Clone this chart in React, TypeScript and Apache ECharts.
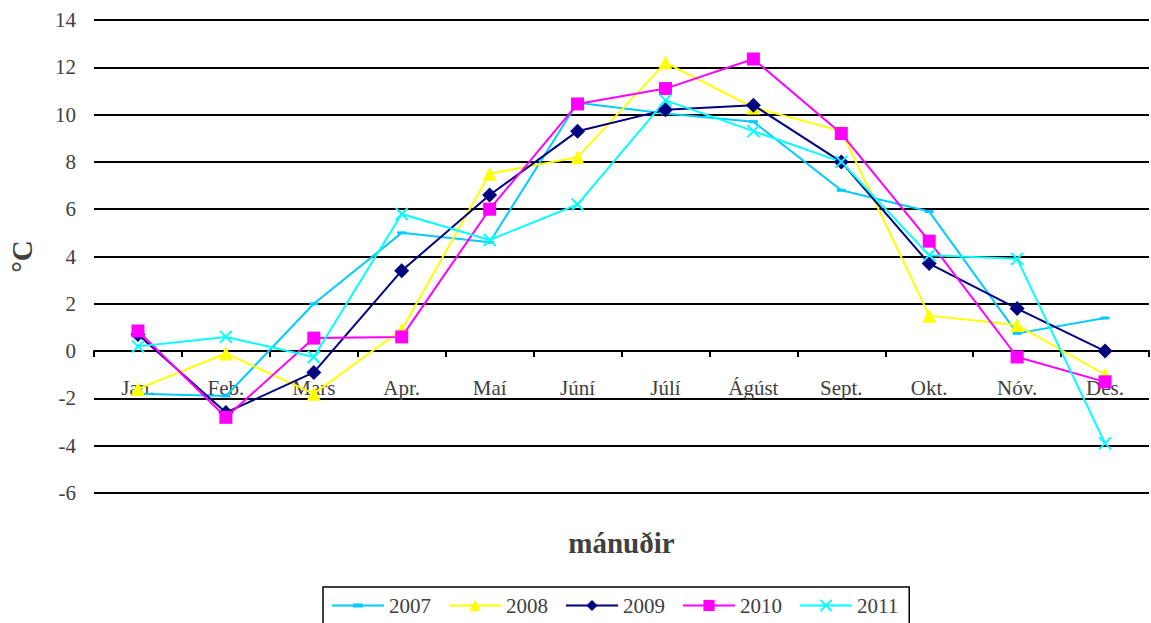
import React, { useEffect, useRef } from "react";
import * as echarts from "echarts";

const months = ["Jan.", "Feb.", "Mars", "Apr.", "Maí", "Júní", "Júlí", "Ágúst", "Sept.", "Okt.", "Nóv.", "Des."];
const years = ["2007", "2008", "2009", "2010", "2011"];
const y2007 = [-1.8, -1.9, 2.0, 5.0, 4.6, 10.5, 10.05, 9.7, 6.8, 5.9, 0.75, 1.4];
const y2008 = [-1.6, -0.1, -1.8, 0.9, 7.5, 8.2, 12.2, 10.3, 9.3, 1.5, 1.1, -1.0];
const y2009 = [0.7, -2.6, -0.9, 3.4, 6.6, 9.3, 10.2, 10.4, 8.0, 3.7, 1.8, 0.0];
const y2010 = [0.85, -2.8, 0.55, 0.6, 6.0, 10.45, 11.1, 12.35, 9.2, 4.65, -0.25, -1.3];
const y2011 = [0.2, 0.6, -0.25, 5.8, 4.7, 6.2, 10.6, 9.3, 8.0, 4.05, 3.9, -3.9];
const yTicks = { min: -6, max: 14, interval: 2 };

const FONT = "Liberation Serif";
const TXT = "#404040";
const GRID_TOP = 20;
const GRID_BOTTOM = 130;
const CHART_H = 623;

export default function App() {
  const ref = useRef<HTMLDivElement>(null);
  useEffect(() => {
    if (!ref.current) return;
    const chart = echarts.init(ref.current, undefined, { renderer: "svg" });
    const plotH = CHART_H - GRID_TOP - GRID_BOTTOM;
    // place category axis at y = 0 of the value axis
    const zeroOffset = -plotH * (0 - yTicks.min) / (yTicks.max - yTicks.min);
    const mk = (name: string, data: number[], color: string, symbol: string, size: any, bw = 0) => ({
      name,
      type: "line",
      data,
      symbol,
      symbolSize: size,
      showSymbol: true,
      lineStyle: { color, width: 2 },
      itemStyle: { color, borderColor: color, borderWidth: bw },
      emphasis: { disabled: true },
    });
    chart.setOption({
      animation: false,
      grid: { left: 94, right: 2, top: GRID_TOP, bottom: GRID_BOTTOM, outerBoundsMode: "none", containLabel: false },
      legend: {
        left: 323,
        top: 587,
        data: [
          { name: "2007", icon: "path://M0,6 H52 V8 H0 Z M21,5 H31 V9 H21 Z" },
          "2008",
          "2009",
          "2010",
          "2011",
        ],
        itemWidth: 52,
        itemHeight: 14,
        itemGap: 17,
        padding: [8, 11, 8, 9],
        borderColor: "#000",
        borderWidth: 1.5,
        textStyle: { fontFamily: FONT, fontSize: 21, color: TXT },
      },
      xAxis: {
        type: "category",
        data: months,
        boundaryGap: true,
        position: "bottom",
        offset: zeroOffset,
        name: "mánuðir",
        nameLocation: "middle",
        nameGap: 177,
        nameTextStyle: { fontFamily: FONT, fontSize: 29, fontWeight: "bold", color: TXT },
        axisLine: { onZero: false, lineStyle: { color: "#000", width: 2 } },
        axisTick: { show: true, length: 6, alignWithLabel: false, lineStyle: { color: "#000", width: 2 } },
        axisLabel: { fontFamily: FONT, fontSize: 21, color: TXT, margin: 26, interval: 0 },
        splitLine: { show: false },
      },
      yAxis: {
        type: "value",
        min: yTicks.min,
        max: yTicks.max,
        interval: yTicks.interval,
        name: "°C",
        nameLocation: "middle",
        nameRotate: 90,
        nameGap: 58,
        nameTextStyle: { fontFamily: FONT, fontSize: 29, fontWeight: "bold", color: TXT },
        axisLine: { show: false, onZero: false },
        axisTick: { show: false },
        axisLabel: { fontFamily: FONT, fontSize: 21, color: TXT, margin: 18 },
        splitLine: { lineStyle: { color: "#000", width: 2 } },
      },
      series: [
        mk("2007", y2007, "#00CCFF", "rect", [9, 3]),
        mk("2008", y2008, "#FFFF00", "triangle", 14),
        mk("2009", y2009, "#000080", "diamond", 15),
        mk("2010", y2010, "#FF00FF", "rect", 13),
        mk("2011", y2011, "#00FFFF", "path://M0,0 L10,10 M10,0 L0,10", 12, 2),
      ],
    });
    return () => chart.dispose();
  }, []);
  return (
    <div
      ref={ref}
      style={{ position: "fixed", left: 0, top: 0, width: 1151, height: CHART_H, background: "#fff" }}
    />
  );
}
